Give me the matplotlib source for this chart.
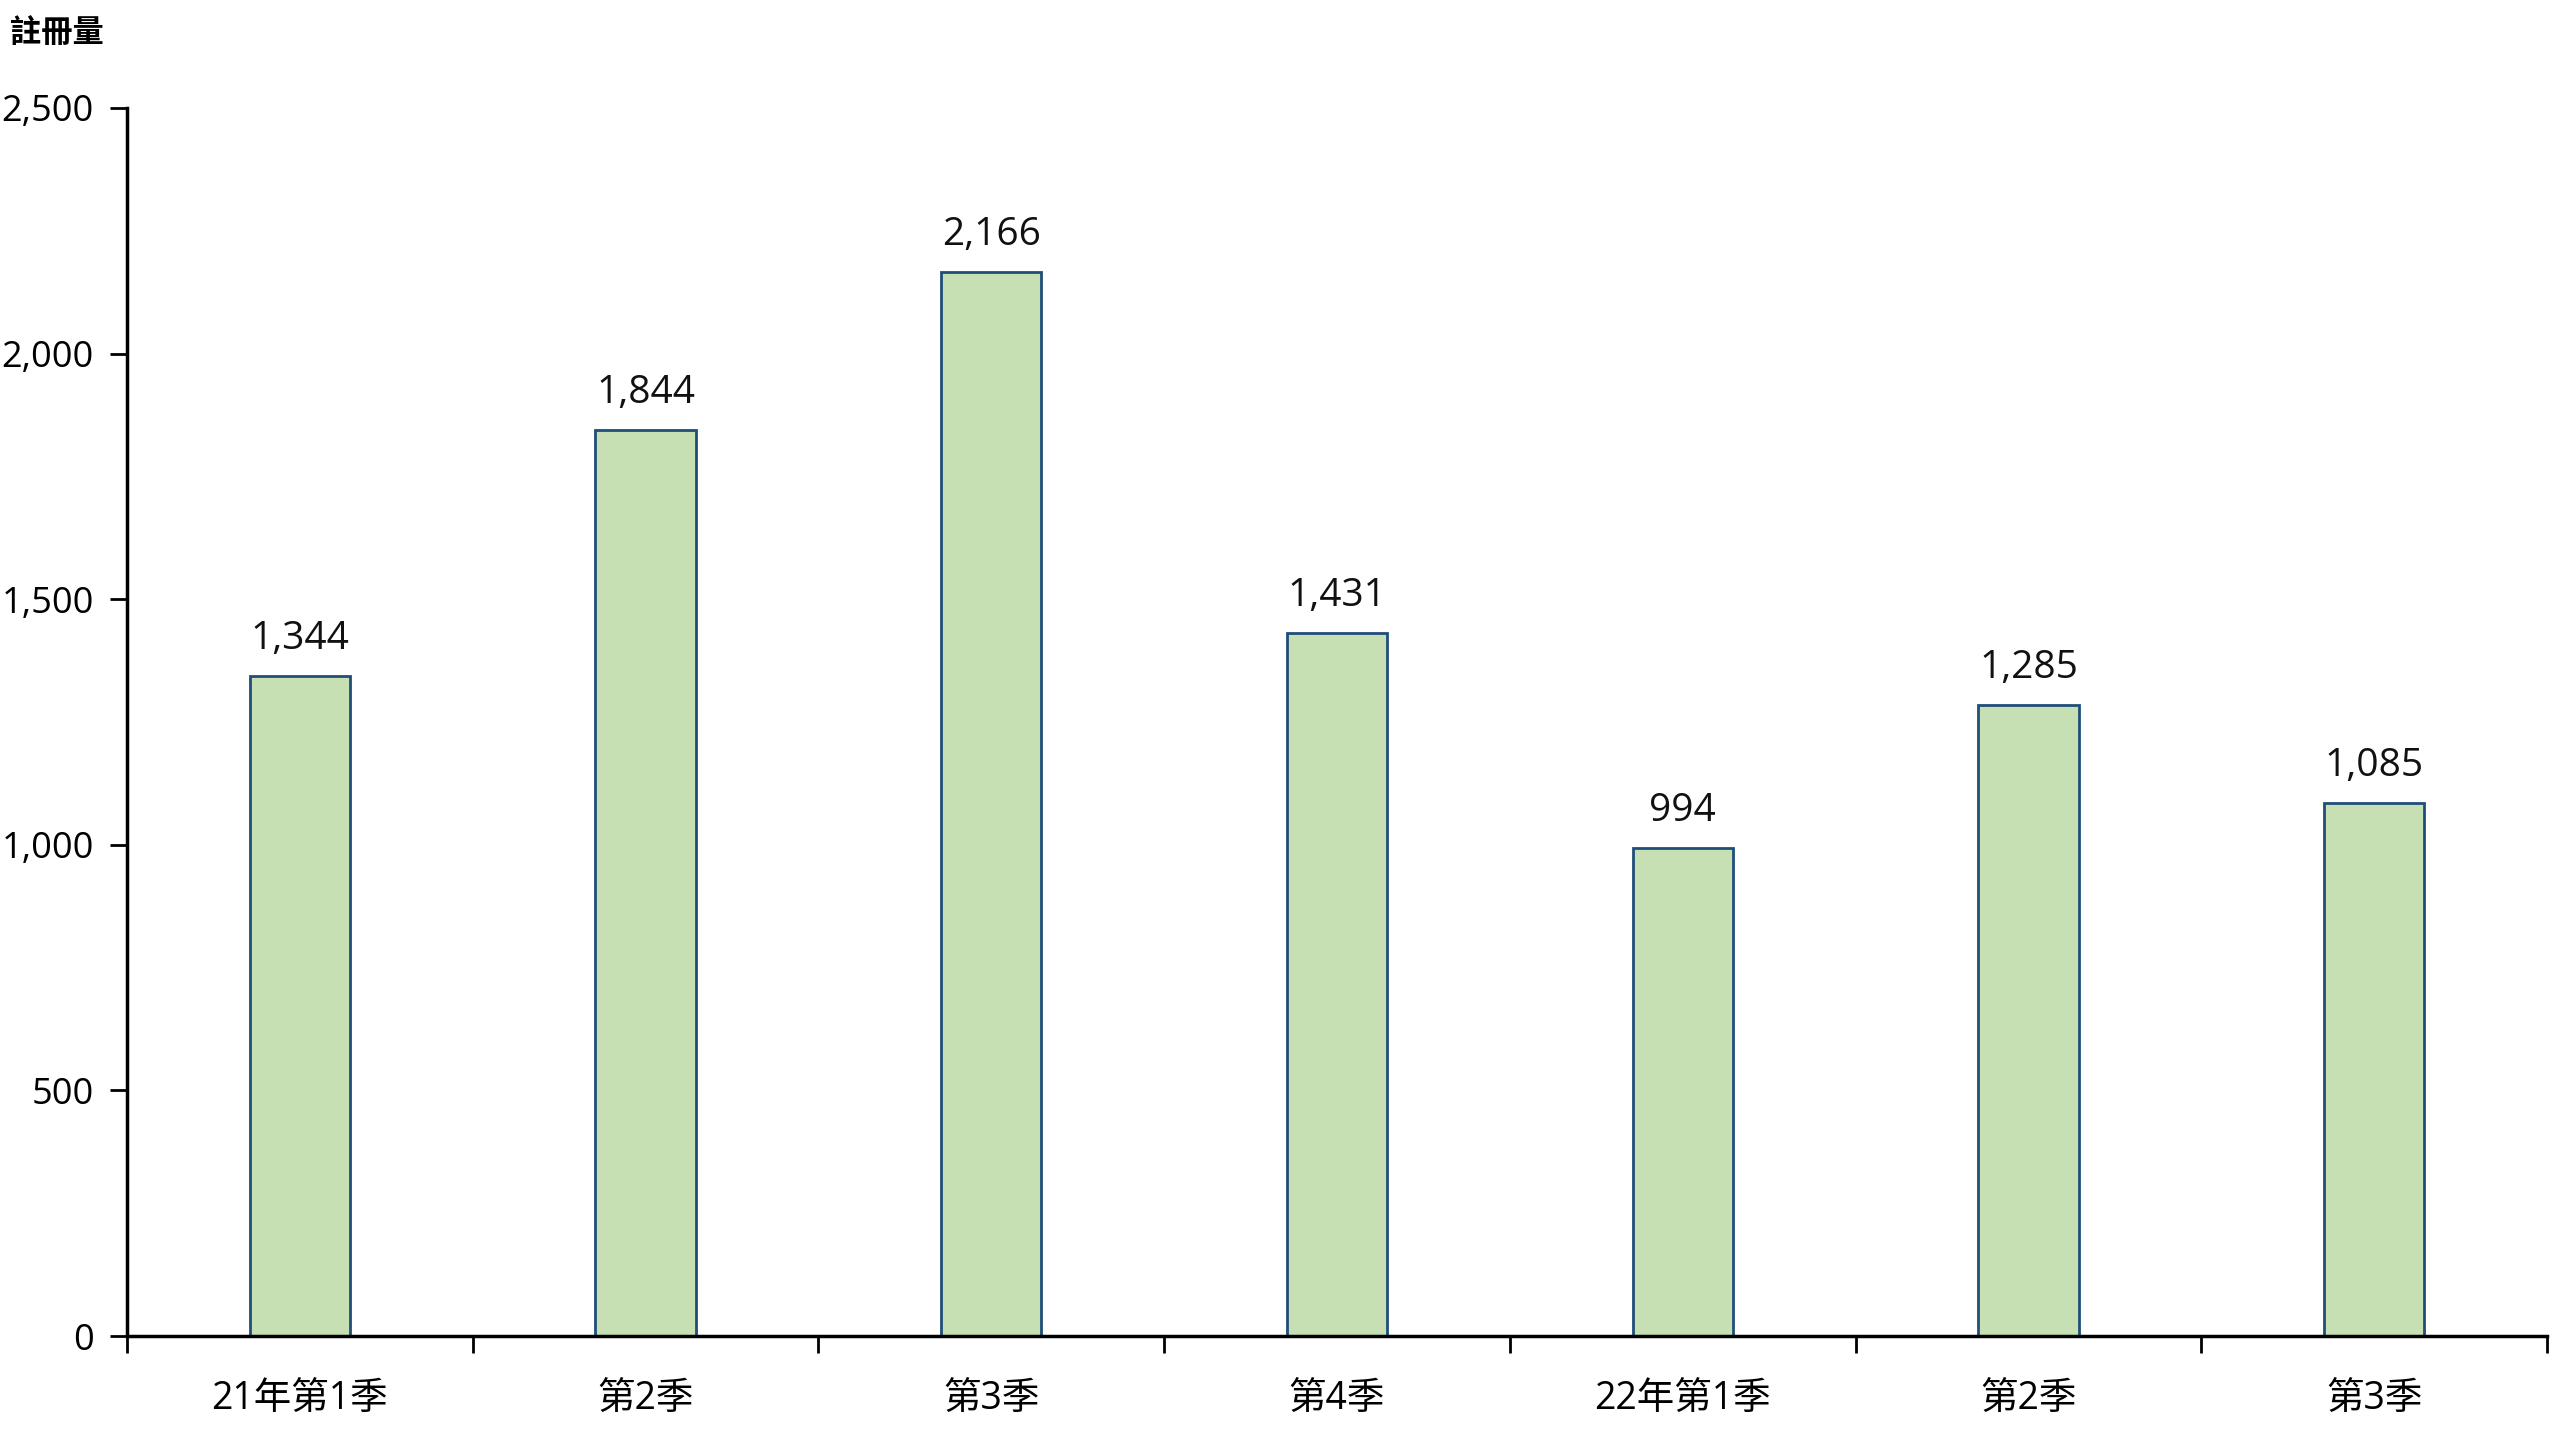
import matplotlib
matplotlib.use("Agg")
import matplotlib.pyplot as plt
from matplotlib.ticker import FuncFormatter

plt.rcParams['font.family'] = ['Open Sans', 'Noto Sans CJK TC', 'DejaVu Sans']

quarters = ['21年第1季', '第2季', '第3季', '第4季', '22年第1季', '第2季', '第3季']
registrations = [1344, 1844, 2166, 1431, 994, 1285, 1085]

fig = plt.figure(figsize=(25.6, 14.4), dpi=100)
ax = fig.add_axes([127 / 2560, 1 - 1336 / 1440, (2547 - 127) / 2560, (1336 - 108) / 1440])

x = list(range(len(quarters)))
bars = ax.bar(x, registrations, width=0.29, color='#C6E0B4', edgecolor='#1F4E79', linewidth=2)

for xi, v in zip(x, registrations):
    ax.annotate(f'{v:,}', (xi, v), xytext=(0, 13), textcoords='offset points',
                ha='center', va='bottom', fontsize=28, color='#111111')

ax.set_xlim(-0.5, len(quarters) - 0.5)
ax.set_ylim(0, 2500)
ax.set_yticks([0, 500, 1000, 1500, 2000, 2500])
ax.yaxis.set_major_formatter(FuncFormatter(lambda v, p: f'{int(v):,}'))
ax.set_xticks(x)
ax.set_xticklabels(quarters, family=['Open Sans', 'Noto Sans CJK TC'])
ax.set_xticks([i - 0.5 for i in range(len(quarters) + 1)], minor=True)
ax.tick_params(axis='x', which='major', length=0, labelsize=27, pad=32)
ax.tick_params(axis='x', which='minor', length=12, width=2, direction='out')
ax.tick_params(axis='y', length=12, width=2, labelsize=26, pad=12)

for s in ['top', 'right']:
    ax.spines[s].set_visible(False)
for s in ['left', 'bottom']:
    ax.spines[s].set_linewidth(2.5)

fig.text(10 / 2560, 1 - 33 / 1440, '註冊量', fontsize=22.5, fontweight='bold', va='center', ha='left',
         family=['Noto Sans CJK TC'])

fig.savefig('out.png', dpi=100)
